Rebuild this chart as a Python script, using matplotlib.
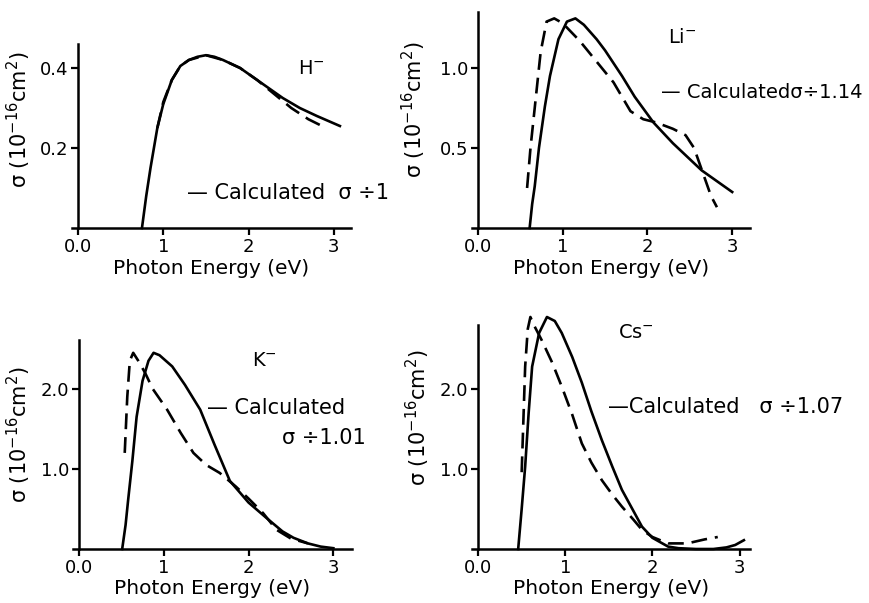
import matplotlib.pyplot as plt

plt.rcParams['font.family'] = ['DejaVu Sans']

# H- panel
h_calc_x = [0.75, 0.80, 0.85, 0.93, 1.0, 1.1, 1.2, 1.3, 1.4, 1.5, 1.6, 1.7, 1.8, 1.9, 2.0, 2.2, 2.4, 2.6, 2.8, 3.07]
h_calc_y = [0.0, 0.08, 0.15, 0.25, 0.31, 0.37, 0.405, 0.42, 0.428, 0.432, 0.428, 0.42, 0.41, 0.40, 0.385, 0.355, 0.325, 0.30, 0.28, 0.255]
h_exp_x = [0.93, 1.0, 1.1, 1.2, 1.3, 1.5, 1.7, 1.9, 2.1, 2.3, 2.5, 2.7, 2.86]
h_exp_y = [0.25, 0.315, 0.37, 0.405, 0.42, 0.432, 0.42, 0.40, 0.37, 0.335, 0.30, 0.272, 0.255]

# Li- panel
li_calc_x = [0.61, 0.64, 0.67, 0.72, 0.79, 0.85, 0.95, 1.05, 1.15, 1.25, 1.4, 1.5, 1.7, 1.85, 2.07, 2.3, 2.5, 2.64, 2.8, 3.0]
li_calc_y = [0.0, 0.15, 0.26, 0.5, 0.76, 0.95, 1.18, 1.29, 1.31, 1.27, 1.18, 1.11, 0.95, 0.82, 0.66, 0.53, 0.43, 0.36, 0.30, 0.225]
li_exp_x = [0.58, 0.62, 0.68, 0.74, 0.81, 0.9, 1.0, 1.2, 1.4, 1.6, 1.8, 1.95, 2.1, 2.3, 2.45, 2.55, 2.65, 2.75, 2.82]
li_exp_y = [0.25, 0.5, 0.8, 1.1, 1.29, 1.31, 1.28, 1.17, 1.04, 0.91, 0.73, 0.68, 0.66, 0.62, 0.58, 0.5, 0.35, 0.2, 0.13]

# K- panel
k_calc_x = [0.51, 0.55, 0.58, 0.63, 0.68, 0.75, 0.82, 0.88, 0.95, 1.1, 1.25, 1.43, 1.6, 1.78, 2.0, 2.22, 2.4, 2.53, 2.7, 2.85, 3.0]
k_calc_y = [0.0, 0.3, 0.61, 1.1, 1.65, 2.1, 2.35, 2.45, 2.42, 2.28, 2.05, 1.74, 1.3, 0.85, 0.58, 0.38, 0.22, 0.14, 0.07, 0.03, 0.01]
k_exp_x = [0.54, 0.57, 0.60, 0.64, 0.70, 0.78, 0.87, 1.04, 1.2, 1.35, 1.5, 1.66, 1.85, 2.0, 2.17, 2.33, 2.5, 2.7]
k_exp_y = [1.2, 1.9, 2.35, 2.45, 2.35, 2.2, 2.0, 1.74, 1.45, 1.2, 1.05, 0.95, 0.78, 0.63, 0.45, 0.24, 0.13, 0.07]

# Cs- panel
cs_calc_x = [0.46, 0.50, 0.54, 0.58, 0.62, 0.70, 0.79, 0.88, 0.96, 1.08, 1.19, 1.3, 1.42, 1.54, 1.65, 1.78, 1.88, 2.0, 2.18, 2.3, 2.5, 2.7, 2.85, 2.95, 3.05]
cs_calc_y = [0.0, 0.5, 1.03, 1.7, 2.28, 2.7, 2.9, 2.85, 2.7, 2.4, 2.08, 1.72, 1.36, 1.03, 0.74, 0.48, 0.28, 0.14, 0.03, 0.01, 0.0, 0.0, 0.02, 0.05, 0.11]
cs_exp_x = [0.50, 0.54, 0.57, 0.60, 0.64, 0.73, 0.85, 0.96, 1.08, 1.19, 1.3, 1.42, 1.54, 1.65, 1.78, 1.88, 2.0, 2.18, 2.4, 2.6, 2.75]
cs_exp_y = [0.96, 2.28, 2.75, 2.9, 2.8, 2.61, 2.33, 2.03, 1.68, 1.32, 1.08, 0.86, 0.68, 0.53, 0.37, 0.24, 0.15, 0.07, 0.07, 0.12, 0.15]

x_ticks = [0, 1, 2, 3]
x_tick_labels = ["0.0", "1", "2", "3"]

panels = [
    # rect (px), xmax, ymax, yticks, ytick labels, calc, exp, ion, ion pos, notes, note size, ylabel pos
    ([72, 375, 279, 184], 3.2, 0.46, [0.2, 0.4], ["0.2", "0.4"],
     (h_calc_x, h_calc_y), (h_exp_x, h_exp_y), "H$^{-}$", (2.58, 0.40),
     [("— Calculated  σ ÷1", 1.28, 0.0875)], 15, (-0.14, 0.587)),
    ([472, 375, 278, 216], 3.21, 1.35, [0.5, 1.0], ["0.5", "1.0"],
     (li_calc_x, li_calc_y), (li_exp_x, li_exp_y), "Li$^{-}$", (2.24, 1.19),
     [("— Calculatedσ÷1.14", 2.16, 0.85)], 14, (-0.158, 0.546)),
    ([73, 54, 279, 209], 3.22, 2.61, [1.0, 2.0], ["1.0", "2.0"],
     (k_calc_x, k_calc_y), (k_exp_x, k_exp_y), "K$^{-}$", (2.04, 2.36),
     [("— Calculated", 1.51, 1.76), ("σ ÷1.01", 2.4, 1.39)], 15, (-0.143, 0.545)),
    ([472, 54, 278, 224], 3.12, 2.8, [1.0, 2.0], ["1.0", "2.0"],
     (cs_calc_x, cs_calc_y), (cs_exp_x, cs_exp_y), "Cs$^{-}$", (1.6, 2.7),
     [("—Calculated   σ ÷1.07", 1.49, 1.78)], 15, (-0.144, 0.585)),
]

W, H = 870, 603
fig = plt.figure(figsize=(W / 100, H / 100), dpi=100)

for rect, xmax, ymax, yt, ytl, calc, exp, ion, ion_pos, notes, note_fs, ylab_pos in panels:
    ax = fig.add_axes([rect[0] / W, rect[1] / H, rect[2] / W, rect[3] / H])
    ax.plot(calc[0], calc[1], color='black', lw=1.9, clip_on=False)
    ax.plot(exp[0], exp[1], color='black', lw=1.9, dashes=(6, 3), clip_on=False)
    ax.set_xlim(-0.07, xmax)
    ax.set_ylim(0, ymax)
    ax.spines['left'].set_position(('data', 0))
    ax.spines['top'].set_visible(False)
    ax.spines['right'].set_visible(False)
    for s in ['left', 'bottom']:
        ax.spines[s].set_linewidth(1.8)
    ax.set_xticks(x_ticks)
    ax.set_xticklabels(x_tick_labels)
    ax.set_yticks(yt)
    ax.set_yticklabels(ytl)
    ax.tick_params(axis='both', direction='out', length=5, width=1.6, labelsize=13, pad=2)
    ax.set_xlabel("Photon Energy (eV)", fontsize=14.5, labelpad=2)
    ax.set_ylabel("σ (10$^{-16}$cm$^{2}$)", fontsize=15)
    ax.yaxis.set_label_coords(ylab_pos[0], ylab_pos[1])
    ax.text(ion_pos[0], ion_pos[1], ion, fontsize=14, ha='left', va='center')
    for txt, tx, ty in notes:
        ax.text(tx, ty, txt, fontsize=note_fs, ha='left', va='center')
    ax.patch.set_alpha(0)

fig.savefig("out.png", dpi=100)
